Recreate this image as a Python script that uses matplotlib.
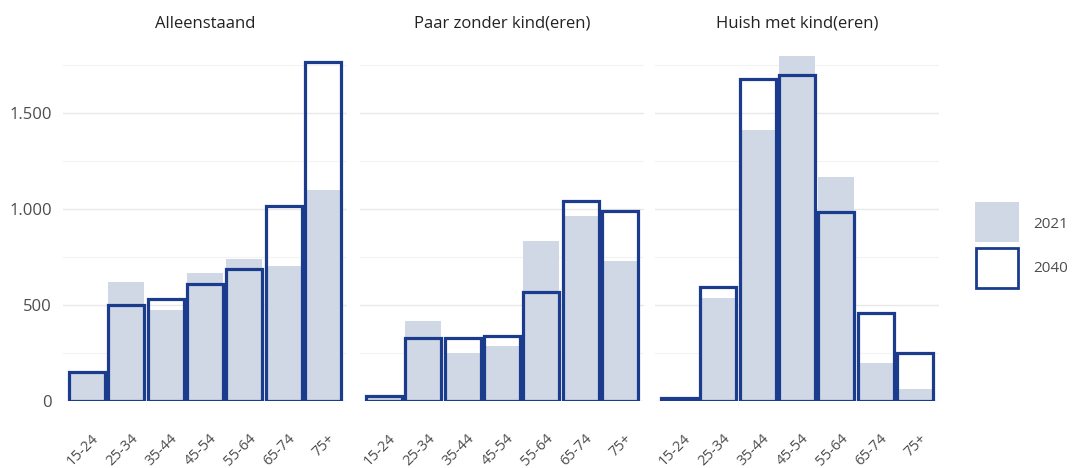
import matplotlib
matplotlib.use("Agg")
import matplotlib.pyplot as plt
from matplotlib.patches import Rectangle
from matplotlib.ticker import FuncFormatter, MultipleLocator
import matplotlib.transforms as mtransforms

plt.rcParams['font.family'] = ['Open Sans', 'DejaVu Sans']

ages = ["15-24", "25-34", "35-44", "45-54", "55-64", "65-74", "75+"]
panels = ["Alleenstaand", "Paar zonder kind(eren)", "Huish met kind(eren)"]
years = ["2021", "2040"]

alleen_2021 = [152, 620, 475, 667, 740, 705, 1101]
alleen_2040 = [150, 500, 531, 609, 691, 1014, 1764]
paar_2021 = [20, 420, 253, 290, 835, 962, 731]
paar_2040 = [28, 328, 332, 342, 568, 1045, 991]
huish_2021 = [10, 538, 1411, 1800, 1165, 201, 62]
huish_2040 = [15, 597, 1677, 1701, 983, 462, 253]

data_2021 = [alleen_2021, paar_2021, huish_2021]
data_2040 = [alleen_2040, paar_2040, huish_2040]

FILL = "#D0D8E6"
EDGE = "#1B3C8C"
TXT = "#4D4D4D"

W, H = 1073, 468
fig = plt.figure(figsize=(W / 100, H / 100), dpi=100)

lefts = [63, 360, 655]
width_px = 284
top_px, bot_px = 55.5, 401.3

def fmt(v, pos):
    return f"{int(v):,}".replace(",", ".")

for i in range(3):
    ax = fig.add_axes([lefts[i] / W, 1 - bot_px / H, width_px / W, (bot_px - top_px) / H])
    x = list(range(len(ages)))
    ax.bar(x, data_2021[i], width=0.92, color=FILL, edgecolor="none", zorder=2)
    ax.bar(x, data_2040[i], width=0.92, facecolor="none", edgecolor=EDGE, linewidth=2.3, zorder=3)
    ax.set_xlim(-0.61, 6.61)
    ax.set_ylim(0, 1800)
    ax.yaxis.set_major_locator(MultipleLocator(500))
    ax.yaxis.set_minor_locator(MultipleLocator(250))
    ax.grid(which="major", axis="y", color="#E8E8E8", linewidth=1.0, zorder=0)
    ax.grid(which="minor", axis="y", color="#F3F3F3", linewidth=0.8, zorder=0)
    ax.set_axisbelow(True)
    for s in ax.spines.values():
        s.set_visible(False)
    ax.tick_params(which="both", length=0)
    ax.set_xticks(x)
    ax.set_xticklabels(ages, rotation=45, ha="right", va="top", rotation_mode="anchor",
                       fontsize=10.5, color=TXT)
    offset = mtransforms.ScaledTranslation(4 / 100, -25 / 100, fig.dpi_scale_trans)
    for lab in ax.get_xticklabels():
        lab.set_transform(lab.get_transform() + offset)
    if i == 0:
        ax.yaxis.set_major_formatter(FuncFormatter(fmt))
        ax.tick_params(axis="y", labelsize=12, labelcolor=TXT, pad=8)
    else:
        ax.set_yticklabels([])
    ax.set_title(panels[i], fontsize=12, color="#222222", pad=20)

# legend drawn in figure pixel coordinates
def fx(px):
    return px / W

def fy(py):
    return 1 - py / H

fig.patches.append(Rectangle((fx(975), fy(242)), 44 / W, 40 / H, transform=fig.transFigure,
                             facecolor=FILL, edgecolor="none"))
fig.patches.append(Rectangle((fx(976), fy(288)), 42 / W, 40 / H, transform=fig.transFigure,
                             facecolor="white", edgecolor=EDGE, linewidth=2.0))
fig.text(fx(1033), fy(224), years[0], fontsize=11, color=TXT, ha="left", va="center")
fig.text(fx(1033), fy(268), years[1], fontsize=11, color=TXT, ha="left", va="center")

fig.savefig("out.png", dpi=100)
